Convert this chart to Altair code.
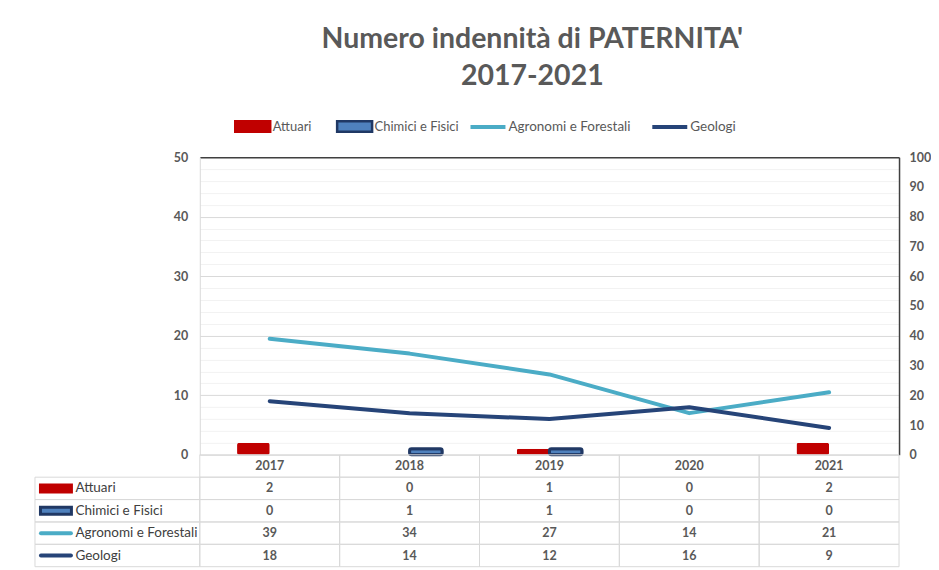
import altair as alt
import pandas as pd

years = ["2017", "2018", "2019", "2020", "2021"]
series_names = ["Attuari", "Chimici e Fisici", "Agronomi e Forestali", "Geologi"]
attuari = [2, 0, 1, 0, 2]
chimici = [0, 1, 1, 0, 0]
agronomi = [39, 34, 27, 14, 21]
geologi = [18, 14, 12, 16, 9]
bar_series = ["Attuari", "Chimici e Fisici"]
line_series = ["Agronomi e Forestali", "Geologi"]
bar_fills = ["#c00000", "#4f81bd"]
bar_strokes = ["#c00000", "#203864"]
line_colors = ["#4bacc6", "#264478"]
symbol_colors = ["#c00000", "#203864", "#4bacc6", "#264478"]
title_lines = ["Numero indennità di PATERNITA'", "2017-2021"]
header_label = "Anno"

FONT = "Lato, Open Sans, sans-serif"
GREY = "#595959"

values = {
    "Attuari": attuari,
    "Chimici e Fisici": chimici,
    "Agronomi e Forestali": agronomi,
    "Geologi": geologi,
}

rows = []
for s in series_names:
    for yr, v in zip(years, values[s]):
        rows.append({"year": yr, "series": s, "value": v,
                     "kind": "bar" if s in bar_series else "line"})
df = pd.DataFrame(rows)

trows = []
for yr in years:
    trows.append({"row": header_label, "year": yr, "text": yr})
for s in series_names:
    for yr, v in zip(years, values[s]):
        trows.append({"row": s, "year": yr, "text": str(v)})
tdf = pd.DataFrame(trows)
sdf = pd.DataFrame({"row": series_names,
                    "kind": ["bar" if s in bar_series else "line" for s in series_names]})

W = 700
xscale = alt.Scale(domain=years, paddingInner=0, paddingOuter=0)
bar_xscale = alt.Scale(domain=years, paddingInner=0.533, paddingOuter=0.2665)
top_axis = alt.Axis(orient="top", labels=False, ticks=False, title=None, grid=False,
                    domainColor="#404040", domainWidth=1.5)

rect_path = "M-1,-0.3L1,-0.3L1,0.3L-1,0.3Z"
line_path = "M-1,0L1,0"

bar_legend = alt.Legend(
    orient="none", legendX=34, legendY=-50, direction="horizontal", title=None,
    symbolSize=1225, symbolType=rect_path, symbolStrokeWidth=2.5, labelOffset=1,
    columnPadding=20, labelFont=FONT, labelFontSize=13, labelColor=GREY,
    symbolOpacity=1,
)
line_legend = alt.Legend(
    orient="none", legendX=269, legendY=-50, direction="horizontal", title=None,
    symbolSize=1225, symbolType=line_path, symbolStrokeWidth=4, labelOffset=1,
    columnPadding=13, labelFont=FONT, labelFontSize=13.5, labelColor=GREY,
    symbolOpacity=1,
)

left_axis = alt.Axis(
    values=list(range(0, 51, 2)), ticks=False, title=None,
    labelExpr="datum.value % 10 === 0 ? datum.label : ''",
    gridColor=alt.condition("datum.value % 10 === 0", alt.value("#d9d9d9"), alt.value("#f2f2f2")),
    domainColor="#d9d9d9", labelPadding=12, labelFont=FONT, labelFontSize=12.5,
    labelFontWeight="bold", labelColor=GREY,
)
right_axis = alt.Axis(
    orient="right", values=list(range(0, 101, 10)), ticks=False, title=None, grid=False,
    domainColor="#404040", domainWidth=1.5, labelPadding=10, labelFont=FONT,
    labelFontSize=12.5, labelFontWeight="bold", labelColor=GREY,
)

bars = alt.Chart(df).transform_filter(
    "datum.kind === 'bar' && datum.value > 0"
).mark_bar(cornerRadius=2, opacity=1).encode(
    x=alt.X("year:N", scale=bar_xscale, axis=top_axis),
    xOffset=alt.XOffset("series:N", scale=alt.Scale(domain=bar_series, paddingInner=0, paddingOuter=0)),
    y=alt.Y("value:Q", scale=alt.Scale(domain=[0, 50]), axis=left_axis),
    fill=alt.Fill("series:N", scale=alt.Scale(domain=bar_series, range=bar_fills), legend=bar_legend),
    stroke=alt.Stroke("series:N", scale=alt.Scale(domain=bar_series, range=bar_strokes), legend=bar_legend),
    strokeWidth=alt.condition("datum.series === 'Chimici e Fisici'", alt.value(3), alt.value(0)),
)

lines = alt.Chart(df).transform_filter(
    "datum.kind === 'line'"
).mark_line(strokeWidth=4, strokeCap="round", strokeJoin="round").encode(
    x=alt.X("year:N", scale=xscale, axis=None, bandPosition=0.5),
    y=alt.Y("value:Q", scale=alt.Scale(domain=[0, 100]), axis=right_axis),
    color=alt.Color("series:N", scale=alt.Scale(domain=line_series, range=line_colors), legend=line_legend),
)

top = alt.layer(bars, lines).resolve_scale(y="independent", x="independent").properties(width=W, height=298)

row_order = [header_label] + series_names
yscale = alt.Scale(domain=row_order, paddingInner=0, paddingOuter=0)
row_axis = alt.Axis(
    orient="left", labelAlign="left", labelPadding=125, labelBaseline="middle",
    labelExpr="datum.value === '%s' ? '' : datum.label" % header_label,
    domain=False, ticks=False, grid=False, title=None,
    labelFont=FONT, labelFontSize=13.5, labelColor="#404040",
)
sym_color = alt.Color("row:N", scale=alt.Scale(domain=series_names, range=symbol_colors), legend=None)

cells = alt.Chart(tdf).mark_rect(fillOpacity=0, stroke="#d9d9d9", strokeWidth=1).encode(
    x=alt.X("year:N", scale=xscale, axis=None),
    y=alt.Y("row:N", scale=yscale, axis=row_axis),
)
texts = alt.Chart(tdf).mark_text(font=FONT, fontSize=12.5, fontWeight="bold", color=GREY).encode(
    x=alt.X("year:N", scale=xscale, axis=None, bandPosition=0.5),
    y=alt.Y("row:N", scale=yscale, axis=row_axis, bandPosition=0.5),
    text="text:N",
)
label_cells = alt.Chart(sdf).mark_rect(fillOpacity=0, stroke="#d9d9d9", strokeWidth=1).encode(
    x=alt.value(-165), x2=alt.value(0),
    y=alt.Y("row:N", scale=yscale, axis=row_axis),
)
bar_symbols = alt.Chart(sdf).transform_filter("datum.kind === 'bar'").mark_rule(
    strokeCap="butt", strokeWidth=10
).encode(
    x=alt.value(-161), x2=alt.value(-127),
    y=alt.Y("row:N", scale=yscale, axis=row_axis, bandPosition=0.5),
    color=sym_color,
)
line_symbols = alt.Chart(sdf).transform_filter("datum.kind === 'line'").mark_rule(
    strokeCap="round", strokeWidth=4
).encode(
    x=alt.value(-159), x2=alt.value(-129),
    y=alt.Y("row:N", scale=yscale, axis=row_axis, bandPosition=0.5),
    color=sym_color,
)
inner = alt.Chart(sdf).transform_filter(
    "datum.row === 'Chimici e Fisici'"
).mark_rule(strokeCap="butt", color="#4f81bd", strokeWidth=4).encode(
    x=alt.value(-158), x2=alt.value(-130),
    y=alt.Y("row:N", scale=yscale, axis=row_axis, bandPosition=0.5),
)

table = alt.layer(cells, label_cells, bar_symbols, line_symbols, inner, texts).properties(width=W, height=112)

chart = alt.vconcat(top, table, spacing=0, bounds="flush").resolve_scale(
    color="independent"
).properties(
    title=alt.TitleParams(text=title_lines, font=FONT, fontSize=28.5, fontWeight="bold",
                          color=GREY, lineHeight=37, anchor="middle", offset=17, dx=50),
    padding={"left": 26, "top": 16, "right": 0, "bottom": 0},
).configure_view(stroke=None)

chart.save("out.html", embed_options={"renderer": "svg", "actions": False})
